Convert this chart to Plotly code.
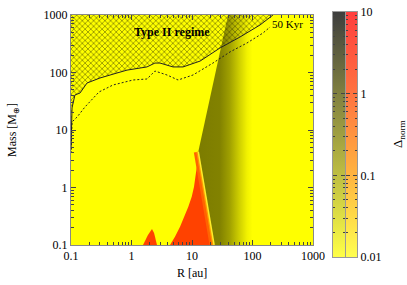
import plotly.graph_objects as go

W, H = 407, 285

# ---- data (R in au, M in Earth masses) ----
# Type II boundary (solid curve)
typeII_R = [0.1, 0.102, 0.104, 0.116, 0.141, 0.184, 0.301, 0.575, 0.843, 1.80, 2.44, 2.96,
            4.85, 7.10, 13.6, 29.0, 62.1, 133, 218]
typeII_M = [4.49, 12.2, 24.2, 40.6, 44, 65.6, 80.2, 98, 110, 125, 146, 146,
            125, 125, 158, 267, 414, 670, 1000]
# 50 Kyr curve (dashed)
kyr50_R = [0.1, 0.104, 0.126, 0.170, 0.290, 0.494, 1.06, 1.80, 2.44, 3.86, 5.88, 10.4,
           22.2, 42.5, 81.1, 149, 195]
kyr50_M = [3.98, 13.8, 16.8, 25.1, 45.8, 60.6, 74.1, 77.1, 106, 90.5, 74.1, 90.5,
           146, 228, 326, 486, 618]
# red (high Delta_norm) wedge outline
wedge_R = [4.33, 5.23, 6.34, 7.66, 8.69, 9.89, 10.8, 11.6, 12.4, 12.7, 23.2]
wedge_M = [0.1, 0.139, 0.208, 0.333, 0.463, 0.692, 1.03, 1.77, 2.81, 4.2, 0.1]
# wedge right edge
edge_R = [12.7, 23.2]
edge_M = [4.2, 0.1]
# small red bump near 2 au
bump_R = [1.55, 1.87, 2.18, 2.36, 2.64]
bump_M = [0.1, 0.149, 0.19, 0.162, 0.1]
# dark (grey-scale Delta_norm) region outline
dark_R = [39.4, 12.7, 23.2, 100, 100]
dark_M = [1000, 4.2, 0.1, 0.1, 1000]

# colour bar range / ticks
cbar_lo, cbar_hi = 0.01, 10
cbar_ticks = [0.01, 0.1, 1, 10]
cbar_text = ["0.01", "0.1", "1", "10"]
axis_ticks = [0.1, 1, 10, 100, 1000]
axis_text = ["0.1", "1", "10", "100", "1000"]
minor_main = [m * 10 ** e for e in (-1, 0, 1, 2) for m in range(2, 10)]
minor_cbar = [m * 10 ** e for e in (-2, -1, 0) for m in range(2, 10)]

FONT = "Liberation Serif"
YEL = "rgb(255,255,0)"

fig = go.Figure()

# red wedge + bump
fig.add_trace(go.Scatter(x=wedge_R, y=wedge_M, fill="toself", mode="lines",
                         line=dict(width=0), fillcolor="rgb(255,66,0)", hoverinfo="skip"))
fig.add_trace(go.Scatter(x=bump_R, y=bump_M, fill="toself", mode="lines",
                         line=dict(width=0), fillcolor="rgb(255,66,0)", hoverinfo="skip"))
# orange glow along wedge edge
fig.add_trace(go.Scatter(x=edge_R, y=edge_M, mode="lines",
                         line=dict(width=9, color="rgb(255,100,0)"), hoverinfo="skip"))
fig.add_trace(go.Scatter(x=edge_R, y=edge_M, mode="lines",
                         line=dict(width=4, color="rgb(255,150,0)"), hoverinfo="skip"))
# dark gradient region
fig.add_trace(go.Scatter(x=dark_R, y=dark_M, fill="toself", mode="lines",
                         line=dict(width=0),
                         fillgradient=dict(type="horizontal",
                                           colorscale=[[0, "rgb(124,124,0)"], [0.4, "rgb(130,130,0)"],
                                                       [0.58, "rgb(160,160,0)"], [0.75, "rgb(205,205,0)"],
                                                       [0.9, "rgb(242,242,0)"], [1, YEL]]),
                         hoverinfo="skip"))
fig.add_trace(go.Scatter(x=edge_R, y=edge_M, mode="lines",
                         line=dict(width=1.5, color="rgb(255,235,40)"), hoverinfo="skip"))
# Type II hatched region
fig.add_trace(go.Scatter(x=typeII_R + [0.1], y=typeII_M + [1000], fill="toself", mode="lines",
                         line=dict(width=0), fillcolor="rgba(0,0,0,0)",
                         fillpattern=dict(shape="x", size=4, solidity=0.4, fgcolor="#333300",
                                          bgcolor="rgba(0,0,0,0)", fillmode="overlay"),
                         hoverinfo="skip"))
fig.add_trace(go.Scatter(x=typeII_R, y=typeII_M, mode="lines",
                         line=dict(width=1, color="#222"), hoverinfo="skip"))
fig.add_trace(go.Scatter(x=kyr50_R, y=kyr50_M, mode="lines",
                         line=dict(width=1, color="#222", dash="2px,2px"), hoverinfo="skip"))

# colour bars
fig.add_trace(go.Scatter(x=[0, 1, 1, 0, 0], y=[cbar_lo, cbar_lo, cbar_hi, cbar_hi, cbar_lo],
                         xaxis="x2", yaxis="y2", fill="toself", mode="lines", line=dict(width=0),
                         fillgradient=dict(type="vertical",
                                           colorscale=[[0, "rgb(255,255,70)"], [0.333, "rgb(190,190,66)"],
                                                       [0.667, "rgb(128,128,64)"], [1, "rgb(62,62,62)"]]),
                         hoverinfo="skip"))
fig.add_trace(go.Scatter(x=[0, 1, 1, 0, 0], y=[cbar_lo, cbar_lo, cbar_hi, cbar_hi, cbar_lo],
                         xaxis="x3", yaxis="y3", fill="toself", mode="lines", line=dict(width=0),
                         fillgradient=dict(type="vertical",
                                           colorscale=[[0, "rgb(255,255,80)"], [0.333, "rgb(255,180,64)"],
                                                       [0.667, "rgb(255,115,64)"], [1, "rgb(255,62,62)"]]),
                         hoverinfo="skip"))

main_dom_x = [71 / W, 313 / W]
main_dom_y = [1 - 245 / H, 1 - 15 / H]
cb_dom_y = [1 - 257 / H, 1 - 12 / H]

common = dict(type="log", showgrid=False, zeroline=False, showline=True, linecolor="#888",
              linewidth=1, ticks="inside", ticklen=5, tickcolor="#444", mirror="allticks",
              automargin=False, tickfont=dict(family=FONT, size=12, color="black"))
cbx = dict(range=[0, 1], showticklabels=False, ticks="", showgrid=False, zeroline=False,
           showline=True, linecolor="#999", mirror=True, automargin=False, fixedrange=True)

fig.update_layout(
    template="none",
    width=W, height=H, margin=dict(l=0, r=0, t=0, b=0, pad=0, autoexpand=False),
    paper_bgcolor="white", plot_bgcolor=YEL, showlegend=False,
    font=dict(family=FONT, size=12, color="black"),
    xaxis=dict(common, domain=main_dom_x, range=[-1, 3], tickvals=axis_ticks, ticktext=axis_text,
               minor=dict(tickvals=minor_main, ticks="inside", ticklen=3, tickcolor="#444")),
    yaxis=dict(common, domain=main_dom_y, range=[-1, 3], tickvals=axis_ticks, ticktext=axis_text,
               minor=dict(tickvals=minor_main, ticks="inside", ticklen=3, tickcolor="#444")),
    xaxis2=dict(cbx, domain=[333 / W, 345 / W], anchor="y2"),
    yaxis2=dict(common, domain=cb_dom_y, range=[-2, 1], anchor="x2", showticklabels=False,
                tickvals=cbar_ticks, linecolor="#999", ticklen=4,
                minor=dict(tickvals=minor_cbar, ticks="inside", ticklen=2, tickcolor="#444")),
    xaxis3=dict(cbx, domain=[346 / W, 357 / W], anchor="y3"),
    yaxis3=dict(common, domain=cb_dom_y, range=[-2, 1], anchor="x3", side="right",
                tickvals=cbar_ticks, ticktext=cbar_text, linecolor="#999", ticklen=4,
                minor=dict(tickvals=minor_cbar, ticks="inside", ticklen=2, tickcolor="#444")),
    annotations=[
        dict(text="<b>Type II regime</b>", x=172 / W, y=1 - 32 / H, xref="paper", yref="paper",
             showarrow=False, font=dict(family=FONT, size=12, color="black"), xanchor="center",
             yanchor="middle"),
        dict(text="50 Kyr", x=287 / W, y=1 - 24 / H, xref="paper", yref="paper",
             showarrow=False, font=dict(family=FONT, size=11, color="black"), xanchor="center",
             yanchor="middle"),
        dict(text="R [au]", x=192 / W, y=1 - 273 / H, xref="paper", yref="paper",
             showarrow=False, font=dict(family=FONT, size=12, color="black"), xanchor="center",
             yanchor="middle"),
        dict(text="Mass [M<sub>⊕</sub>]", x=13 / W, y=1 - 130 / H, xref="paper", yref="paper",
             showarrow=False, font=dict(family=FONT, size=12, color="black"), textangle=-90,
             xanchor="center", yanchor="middle"),
        dict(text="Δ<sub>norm</sub>", x=398 / W, y=1 - 134 / H, xref="paper", yref="paper",
             showarrow=False, font=dict(family=FONT, size=13, color="black"), textangle=-90,
             xanchor="center", yanchor="middle"),
    ],
)

fig.write_html("out.html", config={"displayModeBar": False, "staticPlot": True},
               post_script="document.body.style.margin='0px';document.body.style.padding='0px';")
